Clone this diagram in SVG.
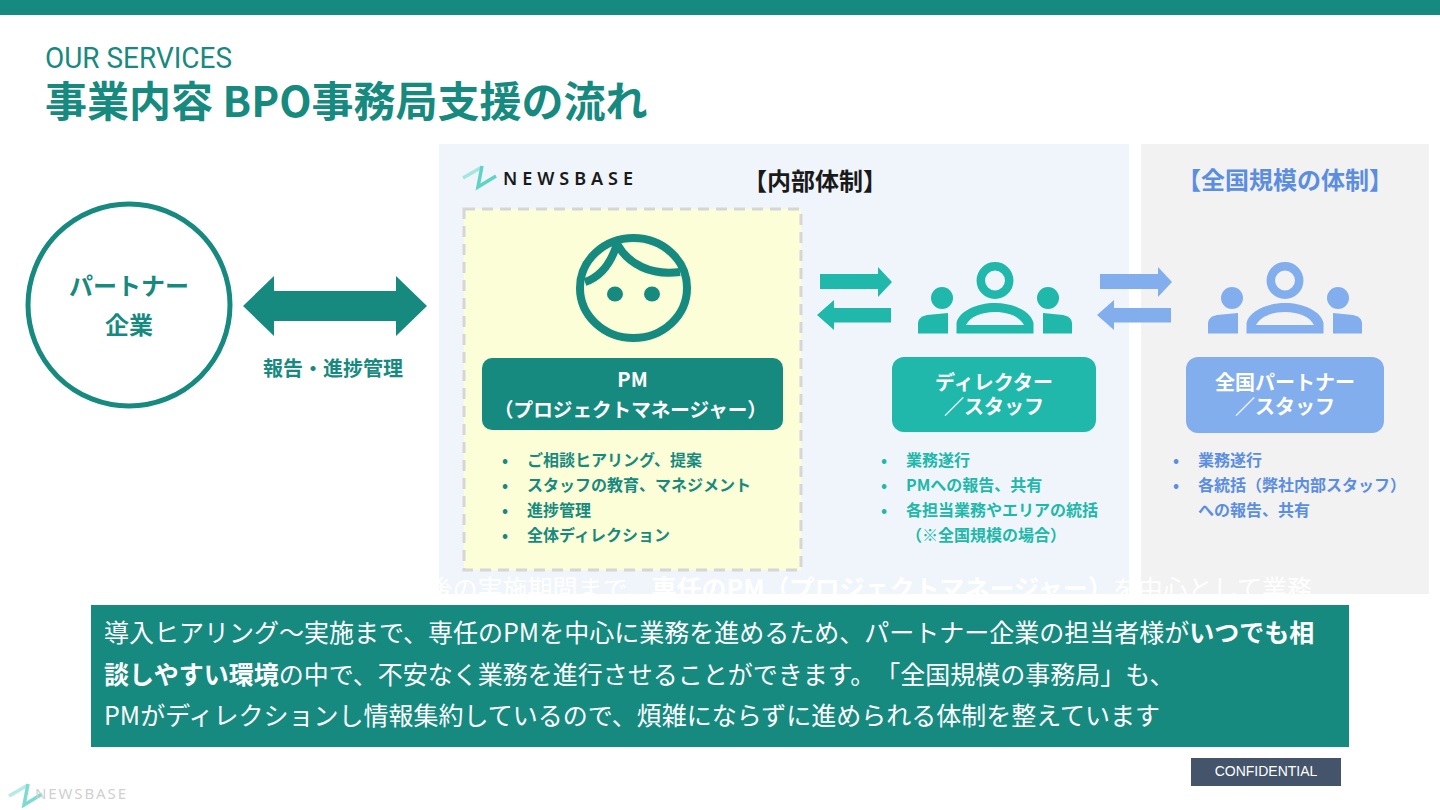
<svg xmlns="http://www.w3.org/2000/svg" width="1440" height="810" viewBox="0 0 1440 810">
<defs>
<style>
text{font-family:"Noto Sans CJK JP","Noto Sans",sans-serif;text-spacing-trim:space-all}
.t{fill:#178a80}.g{fill:#20b8aa}.b{fill:#83aeee}
.h{font-weight:700;text-anchor:middle}
.l{font-size:16px;font-weight:700}
.w{fill:#fff}
.f{font-size:25px;fill:#fff}
.f tspan{font-weight:700}
</style>
<g id="people">
<circle cx="0" cy="17.500" r="14.200" fill="none" stroke="currentColor" stroke-width="8.500"/>
<circle cx="-53" cy="35" r="11" fill="currentColor"/>
<circle cx="53" cy="35" r="11" fill="currentColor"/>
<path fill="currentColor" d="M-77 70.500V60Q-77 54 -68 52L-47 50V70.500Z"/>
<path fill="currentColor" d="M77 70.500V60Q77 54 68 52L48 50V70.500Z"/>
<path fill="currentColor" fill-rule="evenodd" d="M-38.500 70.500V60C-36 48 -18 40 0 40C18 40 36 48 38.500 60V70.500ZM-29 62H29C25 54 14 49 0 49C-14 49 -25 54 -29 62Z"/>
</g>
<g id="logo">
<path d="M0 13L19 2" fill="none" stroke="#a5e6de" stroke-width="3.500"/>
<path d="M19 1L15 22L33 11" fill="none" stroke="#5fd3c6" stroke-width="3.500"/>
</g>
</defs>
<rect width="1440" height="810" fill="#fff"/>
<rect id="topbar" width="1440" height="15" fill="#178a80"/>
<g id="title">
<text x="45" y="68" font-size="30" class="t" style="font-family:Roboto,'Noto Sans',sans-serif" textLength="187" lengthAdjust="spacingAndGlyphs">OUR SERVICES</text>
<text x="45" y="117" font-size="42" font-weight="700" class="t">事業内容 BPO事務局支援の流れ</text>
</g>
<rect id="panel-internal" x="439" y="144" width="690" height="450" fill="#f0f5fc"/>
<rect id="panel-national" x="1141" y="144" width="288" height="450" fill="#f2f2f2"/>
<text x="1312" y="598" font-size="25" class="w" text-anchor="end">後の実施期間まで、<tspan font-weight="700">専任のPM（プロジェクトマネージャー）</tspan>を中心として業務</text>
<g id="partner">
<circle cx="129" cy="305" r="101" fill="#fff" stroke="#178a80" stroke-width="5"/>
<text x="129" y="295" font-size="24" class="h t">パートナー</text>
<text x="129" y="334" font-size="24" class="h t">企業</text>
</g>
<g id="connectors">
<path id="c1" class="t" d="M243 306L274 276V291H396V276L427 306L396 336V321H274V336Z"/>
<path id="c2" class="g" d="M820 274H878V267L892 282L878 297V289H820Z"/>
<path id="c3" class="g" d="M891 308H834V300L817 315L834 330V322.500H891Z"/>
<path id="c4" class="b" d="M1100 274H1158V267L1172 282L1158 297V289H1100Z"/>
<path id="c5" class="b" d="M1171 308H1114V300L1097 315L1114 330V322.500H1171Z"/>
</g>
<text id="c1-label" x="333" y="376" font-size="20" class="h t">報告・進捗管理</text>
<g id="brand">
<use href="#logo" x="463" y="165"/>
<text x="503" y="185" font-size="18" font-weight="600" fill="#1a1a1a" textLength="130" style="font-family:'Noto Sans',sans-serif">NEWSBASE</text>
</g>
<text id="head-internal" x="815" y="190" font-size="24" class="h" fill="#1a1a1a">【内部体制】</text>
<text id="head-national" x="1285" y="189" font-size="24" class="h" fill="#5b8de0">【全国規模の体制】</text>
<g id="pm">
<rect x="464" y="209" width="337" height="361" fill="#fbfed6" stroke="#d6d6d6" stroke-width="3" stroke-dasharray="11 7"/>
<g fill="none" stroke="#178a80" stroke-width="8">
<ellipse cx="633.500" cy="288" rx="53.500" ry="50"/>
<path d="M617 244C612 260 603 276 585 282"/>
<path d="M617 244C628 264 651 276 680 272"/>
</g>
<ellipse cx="615" cy="294" rx="8" ry="7.500" class="t"/>
<ellipse cx="652" cy="294" rx="8" ry="7.500" class="t"/>
<rect x="482" y="358" width="301" height="72" rx="10" class="t"/>
<text x="632.500" y="387" font-size="20" class="h w">PM</text>
<text x="630.500" y="417" font-size="19.600" class="h w">（プロジェクトマネージャー）</text>
<g class="l t">
<text x="502" y="466">•</text><text x="527" y="466">ご相談ヒアリング、提案</text>
<text x="502" y="491">•</text><text x="527" y="491">スタッフの教育、マネジメント</text>
<text x="502" y="516">•</text><text x="527" y="516">進捗管理</text>
<text x="502" y="541">•</text><text x="527" y="541">全体ディレクション</text>
</g>
</g>
<g id="director">
<use href="#people" x="995" y="263" color="#20b8aa"/>
<rect x="892" y="357" width="204" height="75" rx="12" class="g"/>
<text x="994" y="390" font-size="20" class="h w">ディレクター</text>
<text x="994" y="414" font-size="20" class="h w">／スタッフ</text>
<g class="l g">
<text x="881" y="466">•</text><text x="906" y="466">業務遂行</text>
<text x="881" y="491">•</text><text x="906" y="491">PMへの報告、共有</text>
<text x="881" y="516">•</text><text x="906" y="516">各担当業務やエリアの統括</text>
<text x="906" y="541">（※全国規模の場合）</text>
</g>
</g>
<g id="national">
<use href="#people" x="1285" y="263" color="#83aeee"/>
<rect x="1186" y="357" width="198" height="76" rx="12" class="b"/>
<text x="1285" y="390" font-size="20" class="h w">全国パートナー</text>
<text x="1285" y="414" font-size="20" class="h w">／スタッフ</text>
<g class="l" fill="#5b8de0">
<text x="1173" y="466">•</text><text x="1198" y="466">業務遂行</text>
<text x="1173" y="491">•</text><text x="1198" y="491">各統括（弊社内部スタッフ）</text>
<text x="1198" y="516">への報告、共有</text>
</g>
</g>
<g id="summary">
<rect x="91" y="605" width="1258" height="142" fill="#178a80"/>
<text x="104" y="642" class="f">導入ヒアリング～実施まで、専任のPMを中心に業務を進めるため、パートナー企業の担当者様が<tspan>いつでも相</tspan></text>
<text x="104" y="684" class="f"><tspan>談しやすい環境</tspan>の中で、不安なく業務を進行させることができます。「全国規模の事務局」も、</text>
<text x="104" y="725" class="f">PMがディレクションし情報集約しているので、煩雑にならずに進められる体制を整えています</text>
</g>
<g id="confidential">
<rect x="1191" y="758" width="150" height="28" fill="#44546a"/>
<text x="1266" y="776" font-size="14" fill="#fff" text-anchor="middle" style="font-family:'Liberation Sans',sans-serif">CONFIDENTIAL</text>
</g>
<g id="footer-logo">
<use href="#logo" x="9" y="783" opacity=".8"/>
<text x="35" y="799" font-size="15" fill="#d0d0d0" textLength="91" style="font-family:'Noto Sans',sans-serif">NEWSBASE</text>
</g>
</svg>
